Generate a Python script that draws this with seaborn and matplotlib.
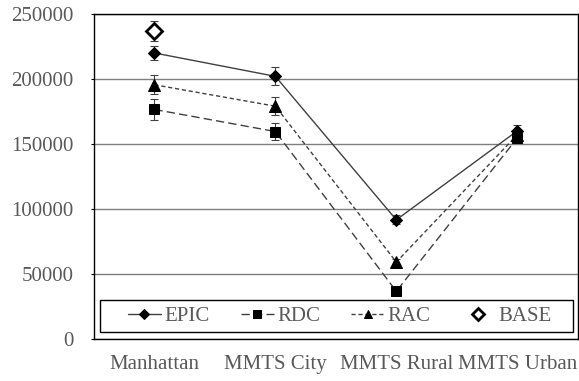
import matplotlib
matplotlib.use("Agg")
import matplotlib.pyplot as plt
from matplotlib.patches import Rectangle
import seaborn as sns
import numpy as np
import pandas as pd

categories = ["Manhattan", "MMTS City", "MMTS Rural", "MMTS Urban"]
epic = [220000, 202000, 91500, 160000]
epic_err = [5600, 7000, 3500, 4500]
rdc = [176500, 159500, 36500, 154500]
rdc_err = [8000, 6400, 1500, 2000]
rac = [195500, 179000, 59000, 157000]
rac_err = [7400, 7000, 2000, 2000]
base_cat = ["Manhattan"]
base = [237000]
base_err = [7500]
yticks = [0, 50000, 100000, 150000, 200000, 250000]

sns.set_theme(style="white")
plt.rcParams["font.family"] = ["Liberation Serif", "DejaVu Serif"]
TXT = "#595959"

fig = plt.figure(figsize=(5.79, 3.81), dpi=100)
ax = fig.add_axes([94 / 579, 1 - 338.7 / 381, 483.7 / 579, 324.7 / 381])

pos = {c: i for i, c in enumerate(categories)}
x = [pos[c] for c in categories]

series = [
    ("EPIC", epic, epic_err, "D", 6, "-", "#404040"),
    ("RDC", rdc, rdc_err, "s", 7.5, (0, (6, 3)), "#404040"),
    ("RAC", rac, rac_err, "^", 8, (0, (3, 2)), "#404040"),
]

for name, vals, errs, mk, ms, ls, col in series:
    ax.errorbar(x, vals, yerr=errs, fmt="none", ecolor="#404040",
                elinewidth=0.8, capsize=3, capthick=0.8, zorder=3)
    sns.lineplot(x=x, y=vals, ax=ax, marker=mk, markersize=ms, color=col,
                 linestyle=ls, linewidth=1.0, markeredgecolor="black",
                 markerfacecolor="black", sort=False, label=name, zorder=4)

bx = [pos[c] for c in base_cat]
ax.errorbar(bx, base, yerr=base_err, fmt="none", ecolor="#404040",
            elinewidth=0.8, capsize=3, capthick=0.8, zorder=3)
sns.lineplot(x=bx, y=base, ax=ax, marker="D", markersize=8, color="black",
             linestyle="none", markeredgecolor="black", markerfacecolor="white",
             markeredgewidth=2, label="BASE", zorder=5)

ax.set_xlim(-0.5, 3.5)
ax.set_ylim(0, 250000)
ax.set_yticks(yticks)
ax.set_yticklabels([str(v) for v in yticks])
ax.set_xticks(x)
ax.set_xticklabels(categories)
ax.yaxis.grid(True, color="#7f7f7f", linewidth=1.0)
ax.xaxis.grid(False)
ax.set_axisbelow(True)
for s in ax.spines.values():
    s.set_color("black")
    s.set_linewidth(1.0)
    s.set_visible(True)

ax.tick_params(axis="y", which="both", left=True, length=2.5, width=0.8,
               color="black", pad=12, labelsize=15, labelcolor=TXT)
ax.tick_params(axis="x", which="both", bottom=False, length=0, pad=12,
               labelsize=15, labelcolor=TXT)
ax.set_xlabel("")
ax.set_ylabel("")

# legend box
frame = Rectangle((0.0114, 0.0197), 0.9796, 0.098, transform=ax.transAxes,
                  facecolor="white", edgecolor="black", linewidth=1.0, zorder=6)
ax.add_patch(frame)
leg = ax.legend(loc="center", bbox_to_anchor=(0.5075, 0.0687),
                ncol=4, borderaxespad=0, frameon=False, fontsize=15,
                handlelength=1.6, handletextpad=0.15, columnspacing=1.5,
                borderpad=0.0, labelcolor=TXT, markerscale=0.8)
leg.set_zorder(7)

fig.savefig("out.png", dpi=100)
